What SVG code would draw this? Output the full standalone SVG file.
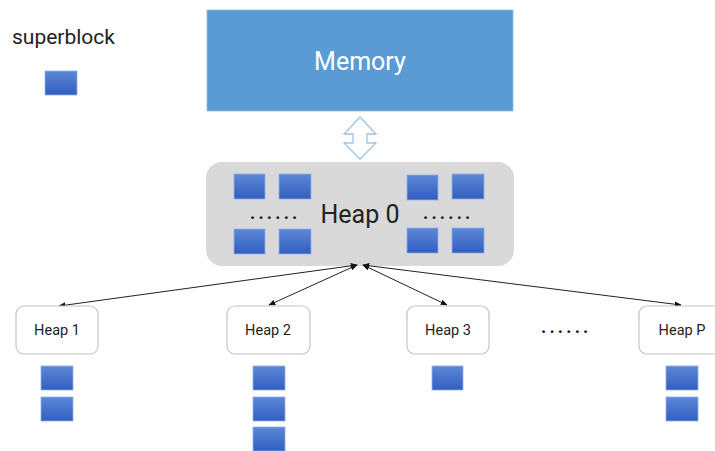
<svg xmlns="http://www.w3.org/2000/svg" width="715" height="451" viewBox="0 0 715 451">
  <defs>
    <linearGradient id="blockFill" x1="0" y1="0" x2="0" y2="1">
      <stop offset="0" stop-color="#5d87d6"/>
      <stop offset="1" stop-color="#315fc2"/>
    </linearGradient>
    <marker id="tip" viewBox="0 0 10 10" refX="9" refY="5" markerWidth="7" markerHeight="7" orient="auto-start-reverse" markerUnits="userSpaceOnUse">
      <path d="M0,1 L10,5 L0,9 Z" fill="#111"/>
    </marker>
  </defs>
  <style>
    .block { fill: url(#blockFill); stroke: #8fb0e8; stroke-width: 0.8; }
    .heap { fill: #ffffff; stroke: #c4c4c4; stroke-width: 1.2; }
    .label { font-family: Roboto, "Liberation Sans", sans-serif; fill: #222; }
    .edge { stroke: #222; stroke-width: 1; fill: none; marker-start: url(#tip); marker-end: url(#tip); }
    .dots { font-family: Roboto, "Liberation Sans", sans-serif; fill: #111; font-size: 18px; font-weight: bold; letter-spacing: 3.2px; }
  </style>

  <rect width="715" height="451" fill="#ffffff"/>

  <!-- legend -->
  <g id="legend">
    <text class="label" x="12" y="44" font-size="21">superblock</text>
    <rect class="block" x="45" y="71" width="32" height="24"/>
  </g>

  <!-- memory -->
  <g id="memory">
    <rect x="207" y="10" width="306" height="101" fill="#5b9bd5" stroke="#8dbbe6" stroke-width="0.8"/>
    <text x="360" y="70" font-size="25" text-anchor="middle" fill="#ffffff" font-family="Roboto, 'Liberation Sans', sans-serif">Memory</text>
  </g>

  <!-- memory <-> heap 0 transfer -->
  <g id="transfer">
    <path d="M360,117 L376,134 L367,134 L367,143 L376,143 L360,159 L344,143 L353,143 L353,134 L344,134 Z" fill="#ffffff" stroke="#9dc3e6" stroke-width="1.3" stroke-linejoin="miter"/>
  </g>

  <!-- global heap -->
  <g id="heap0">
    <rect x="206" y="162" width="308" height="104" rx="16" fill="#d9d9d9"/>
    <rect class="block" x="234" y="174" width="31" height="25"/>
    <rect class="block" x="279" y="174" width="32" height="25"/>
    <rect class="block" x="234" y="229" width="31" height="25"/>
    <rect class="block" x="279" y="229" width="32" height="25"/>
    <rect class="block" x="407" y="175" width="31" height="25"/>
    <rect class="block" x="452" y="174" width="32" height="25"/>
    <rect class="block" x="407" y="228" width="31" height="25"/>
    <rect class="block" x="452" y="228" width="32" height="25"/>
    <text class="dots" x="250" y="219">......</text>
    <text class="dots" x="423" y="219">......</text>
    <text class="label" x="360" y="223" font-size="25" text-anchor="middle">Heap 0</text>
  </g>

  <!-- connectors -->
  <g id="connectors">
    <line class="edge" x1="357" y1="265" x2="59" y2="306"/>
    <line class="edge" x1="357" y1="265" x2="269" y2="305"/>
    <line class="edge" x1="363" y1="265" x2="447" y2="305"/>
    <line class="edge" x1="363" y1="265" x2="681" y2="305"/>
  </g>

  <!-- per-processor heaps -->
  <g id="heap1">
    <rect class="heap" x="16" y="306" width="82" height="48" rx="8"/>
    <text class="label" x="57" y="335" font-size="14.5" text-anchor="middle">Heap 1</text>
    <rect class="block" x="41" y="366" width="32" height="24"/>
    <rect class="block" x="41" y="397" width="32" height="24"/>
  </g>
  <g id="heap2">
    <rect class="heap" x="227" y="306" width="83" height="48" rx="8"/>
    <text class="label" x="268" y="335" font-size="14.5" text-anchor="middle">Heap 2</text>
    <rect class="block" x="253" y="366" width="32" height="24"/>
    <rect class="block" x="253" y="397" width="32" height="24"/>
    <rect class="block" x="253" y="427" width="32" height="24"/>
  </g>
  <g id="heap3">
    <rect class="heap" x="407" y="306" width="82" height="48" rx="8"/>
    <text class="label" x="448" y="335" font-size="14.5" text-anchor="middle">Heap 3</text>
    <rect class="block" x="432" y="366" width="31" height="24"/>
  </g>
  <g id="ellipsis">
    <text class="dots" x="541" y="333">......</text>
  </g>
  <g id="heapP">
    <rect class="heap" x="639" y="306" width="84" height="48" rx="8"/>
    <text class="label" x="682" y="335" font-size="14.5" text-anchor="middle">Heap P</text>
    <rect class="block" x="666" y="366" width="32" height="24"/>
    <rect class="block" x="666" y="397" width="32" height="24"/>
  </g>
</svg>
